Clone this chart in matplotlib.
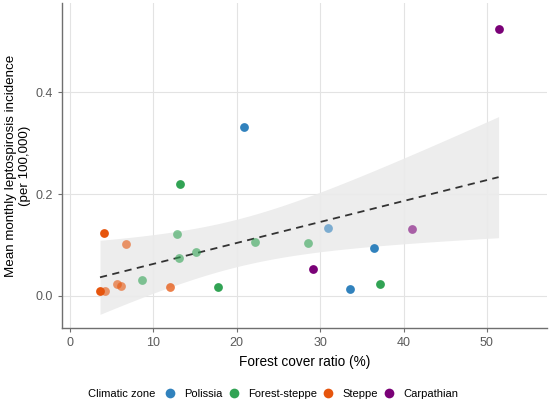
import numpy as np
import matplotlib.pyplot as plt
from matplotlib.lines import Line2D

plt.rcParams['font.family'] = ['Liberation Sans', 'DejaVu Sans']

zones = ["Polissia", "Forest-steppe", "Steppe", "Carpathian"]
zone_colors = {"Polissia": "#3182bd", "Forest-steppe": "#31a354",
               "Steppe": "#e6550d", "Carpathian": "#7a0177"}

# forest cover (%), incidence, zone, opacity
forest = [20.9, 31.0, 36.4, 33.6,
          13.2, 12.8, 13.1, 15.1, 8.6, 17.8, 22.2, 28.5, 37.2,
          4.1, 6.7, 3.6, 4.2, 5.6, 6.1, 12.0,
          51.4, 41.0, 29.2]
incidence = [0.331, 0.133, 0.094, 0.014,
             0.219, 0.122, 0.075, 0.087, 0.031, 0.018, 0.106, 0.104, 0.023,
             0.123, 0.102, 0.009, 0.009, 0.024, 0.020, 0.018,
             0.523, 0.131, 0.053]
zone = (["Polissia"] * 4 + ["Forest-steppe"] * 9 + ["Steppe"] * 7
        + ["Carpathian"] * 3)
opacity = [1.0, 0.6, 1.0, 1.0,
           1.0, 0.6, 0.6, 0.6, 0.6, 1.0, 0.6, 0.6, 1.0,
           1.0, 0.6, 1.0, 0.6, 0.6, 0.6, 0.75,
           1.0, 0.6, 1.0]

x = np.array(forest)
y = np.array(incidence)

# linear fit with 95% confidence band
n = len(x)
slope, intercept = np.polyfit(x, y, 1)
resid = y - (slope * x + intercept)
s = np.sqrt(np.sum(resid ** 2) / (n - 2))
t_crit = 2.080  # t(0.975, df=21)
xs = np.linspace(x.min(), x.max(), 100)
ys = slope * xs + intercept
se = s * np.sqrt(1 / n + (xs - x.mean()) ** 2 / np.sum((x - x.mean()) ** 2))

fig = plt.figure(figsize=(5.5, 4.03), dpi=100)
ax = fig.add_axes([0.1127, 0.186, 0.8818, 0.8066])

ax.fill_between(xs, ys - t_crit * se, ys + t_crit * se, color="#ebebeb",
                alpha=0.9, lw=0, zorder=1)
ax.plot(xs, ys, ls=(0, (4, 3)), color="#333333", lw=1.3, zorder=2)

for xi, yi, zi, ai in zip(forest, incidence, zone, opacity):
    ax.scatter(xi, yi, s=40, color=zone_colors[zi], alpha=ai, lw=0, zorder=3)

ax.set_xlim(-0.96, 57.2)
ax.set_ylim(-0.063, 0.575)
ax.set_xticks([0, 10, 20, 30, 40, 50])
ax.set_yticks([0.0, 0.2, 0.4])
ax.set_yticklabels(["0.0", "0.2", "0.4"])
ax.grid(True, color="#e3e3e3", lw=0.8)
ax.set_axisbelow(True)
for side in ["top", "right"]:
    ax.spines[side].set_visible(False)
for side in ["left", "bottom"]:
    ax.spines[side].set_color("#6f6f6f")
    ax.spines[side].set_linewidth(1.0)
ax.tick_params(colors="#6f6f6f", labelcolor="#5a5a5a", labelsize=9, length=3)
ax.set_xlabel("Forest cover ratio (%)", fontsize=9.8, color="black", labelpad=4)
ax.set_ylabel("Mean monthly leptospirosis incidence\n(per 100,000)",
              fontsize=9.6, color="black")
ax.yaxis.set_label_coords(-0.064, 0.5)

handles = [Line2D([], [], marker="o", ls="", markersize=7,
                  markerfacecolor=zone_colors[z], markeredgewidth=0)
           for z in zones]
fig.legend(handles, zones, ncol=4, loc="center", frameon=False,
           bbox_to_anchor=(0.567, 0.022), fontsize=8, handletextpad=0.9,
           columnspacing=0.6, handlelength=0.8)
fig.text(0.16, 0.022, "Climatic zone", fontsize=8, va="center")

fig.savefig("out.png", dpi=100)
